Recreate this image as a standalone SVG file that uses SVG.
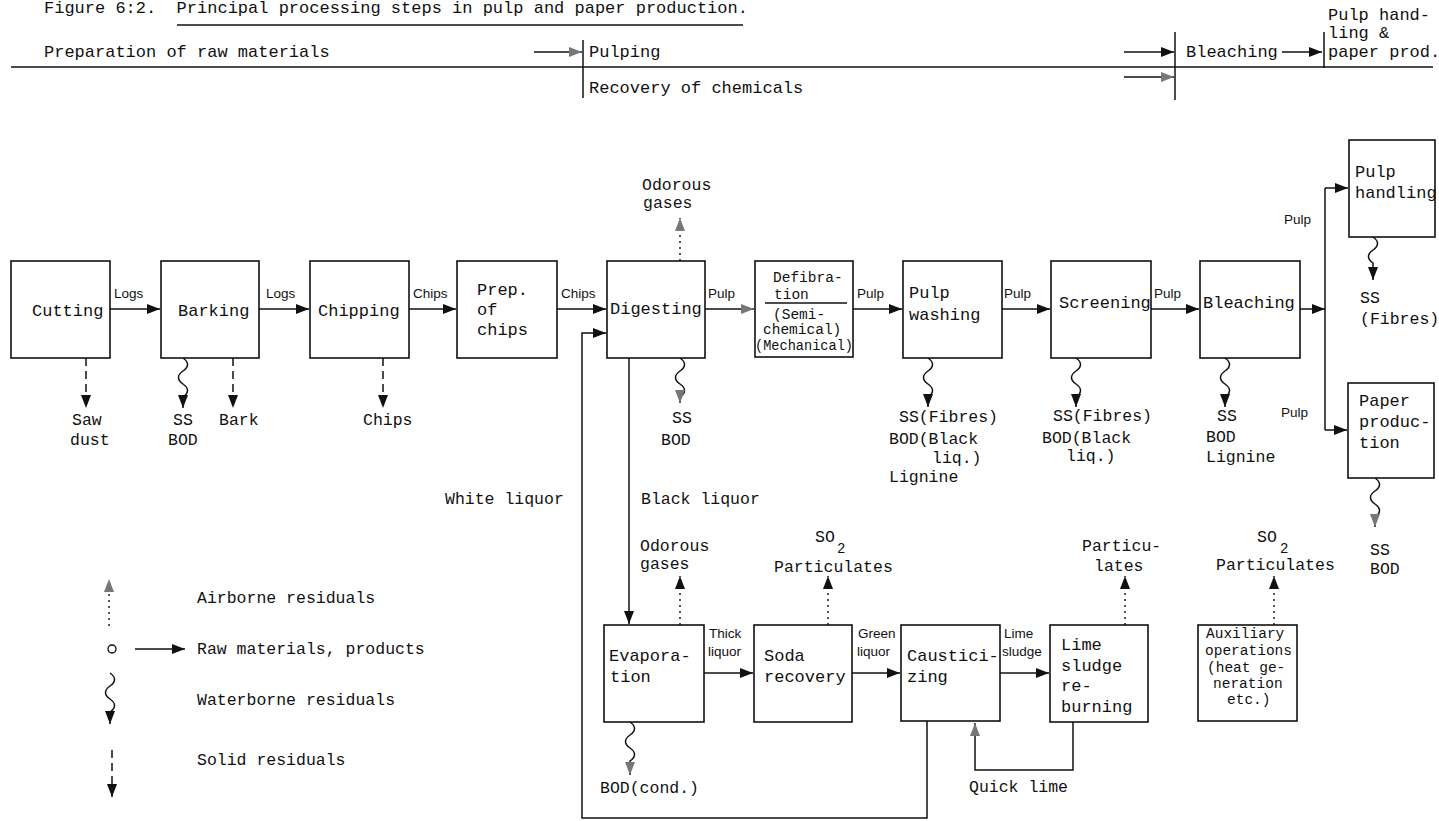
<svg xmlns="http://www.w3.org/2000/svg" width="1439" height="821" viewBox="0 0 1439 821">
<style>
text{font-family:"Liberation Mono","DejaVu Sans Mono",monospace;fill:#111}
.t{font-size:17px}
.l{font-size:16.5px}
.d{font-size:14.5px}
.a{font-size:14.5px}
.s{font-family:"Liberation Sans",Arial,sans-serif;font-size:13.5px}
.sub{font-size:14px}
rect{fill:#fff;stroke:#111;stroke-width:1.6}
.c{fill:none;stroke:#111;stroke-width:1.5}
.f{fill:none;stroke:#111;stroke-width:1.5;marker-end:url(#ab)}
.g{fill:none;stroke:#111;stroke-width:1.5;marker-end:url(#ag)}
.dash{stroke-dasharray:8 5}
.dot{stroke-dasharray:2 4;stroke-width:1.4}
</style>
<defs>
<marker id="ab" markerUnits="userSpaceOnUse" markerWidth="14" markerHeight="12" refX="13" refY="5" orient="auto"><path d="M0,0 L13,5 L0,10 z" fill="#111"/></marker>
<marker id="ag" markerUnits="userSpaceOnUse" markerWidth="14" markerHeight="12" refX="13" refY="5" orient="auto"><path d="M0,0 L13,5 L0,10 z" fill="#777"/></marker>
</defs>

<g id="header">
<text class="t" x="44" y="13" xml:space="preserve">Figure 6:2.  Principal processing steps in pulp and paper production.</text>
<line class="c" x1="177" y1="25" x2="743" y2="25"/>
<text class="t" x="44" y="57">Preparation of raw materials</text>
<text class="t" x="589" y="57">Pulping</text>
<text class="t" x="589" y="93">Recovery of chemicals</text>
<text class="t" x="1186" y="57">Bleaching</text>
<text class="t" x="1328" y="20">Pulp hand-</text>
<text class="t" x="1328" y="38">ling &amp;</text>
<text class="t" x="1328" y="57">paper prod.</text>
<line class="c" x1="11" y1="67" x2="1433" y2="67"/>
<line class="c" x1="583" y1="40" x2="583" y2="98"/>
<line class="c" x1="1175" y1="32" x2="1175" y2="100"/>
<line class="c" x1="1324" y1="32" x2="1324" y2="68"/>
<path class="g" d="M534 52 H582"/>
<path class="f" d="M1124 52 H1174"/>
<path class="g" d="M1124 77 H1174"/>
<path class="f" d="M1282 52 H1322"/>
</g>

<g id="connectors">
<path class="f" d="M110 309 H160"/>
<path class="f" d="M259 309 H309"/>
<path class="f" d="M409 309 H456"/>
<path class="f" d="M557 309 H606"/>
<path class="g" d="M705 309 H754"/>
<path class="f" d="M853 309 H902"/>
<path class="f" d="M1002 309 H1050"/>
<path class="f" d="M1151 309 H1199"/>
<path class="f" d="M1300 309 H1325"/>
<path class="c" d="M1325 188 V430"/>
<path class="f" d="M1325 188 H1348"/>
<path class="f" d="M1325 430 H1347"/>
<path class="f" d="M629 358 V624"/>
<path class="f" d="M927 721 V818 H582 V333 H606"/>
<path class="f" d="M704 673 H753"/>
<path class="f" d="M852 673 H900"/>
<path class="f" d="M1000 673 H1049"/>
<path class="g" d="M1073 722 V770 H975 V723"/>
<path class="g dot" d="M680 261 V218"/>
<path class="f dot" d="M680 625 V576"/>
<path class="f dot" d="M828 625 V576"/>
<path class="f dot" d="M1125 625 V576"/>
<path class="f dot" d="M1274 625 V576"/>
<path class="f dash" d="M86 358 V408"/>
<path class="f dash" d="M233 358 V408"/>
<path class="f dash" d="M383 358 V408"/>
<path class="f" d="M183 358 c 6 4 6 9 0 13 c -6 4 -6 9 0 13 c 6 4 6 9 0 13 L183 408"/>
<path class="g" d="M680 358 c 6 4 6 9 0 13 c -6 4 -6 9 0 13 c 6 4 6 9 0 13 L680 403"/>
<path class="f" d="M928 358 c 6 4 6 9 0 13 c -6 4 -6 9 0 13 c 6 4 6 9 0 13 L928 407"/>
<path class="f" d="M1076 358 c 6 4 6 9 0 13 c -6 4 -6 9 0 13 c 6 4 6 9 0 13 L1076 407"/>
<path class="f" d="M1225 358 c 6 4 6 9 0 13 c -6 4 -6 9 0 13 c 6 4 6 9 0 13 L1225 407"/>
<path class="f" d="M1373 237 c 6 4 6 9 0 13 c -6 4 -6 9 0 13 L1373 280"/>
<path class="g" d="M1375 478 c 6 4 6 9 0 13 c -6 4 -6 9 0 13 c 6 4 6 9 0 13 L1375 527"/>
<path class="g" d="M630 722 c 6 4 6 9 0 13 c -6 4 -6 9 0 13 c 6 4 6 9 0 13 L630 775"/>
<text class="s" x="114" y="298">Logs</text>
<text class="s" x="266" y="298">Logs</text>
<text class="s" x="413" y="298">Chips</text>
<text class="s" x="561" y="298">Chips</text>
<text class="s" x="708" y="298">Pulp</text>
<text class="s" x="857" y="298">Pulp</text>
<text class="s" x="1004" y="298">Pulp</text>
<text class="s" x="1154" y="298">Pulp</text>
<text class="s" x="1284" y="224">Pulp</text>
<text class="s" x="1281" y="417">Pulp</text>
<text class="s" x="709" y="638">Thick</text>
<text class="s" x="708" y="656">liquor</text>
<text class="s" x="858" y="638">Green</text>
<text class="s" x="857" y="656">liquor</text>
<text class="s" x="1004" y="638">Lime</text>
<text class="s" x="1002" y="656">sludge</text>
<text class="l" x="445" y="504">White liquor</text>
<text class="l" x="641" y="504">Black liquor</text>
<text class="l" x="969" y="792">Quick lime</text>
</g>

<g id="cutting"><rect x="11" y="261" width="99" height="97"/><text class="t" x="32" y="316">Cutting</text>
<text class="l" x="72" y="425">Saw</text><text class="l" x="70" y="445">dust</text></g>
<g id="barking"><rect x="161" y="261" width="98" height="97"/><text class="t" x="178" y="316">Barking</text>
<text class="l" x="173" y="425">SS</text><text class="l" x="168" y="445">BOD</text><text class="l" x="219" y="425">Bark</text></g>
<g id="chipping"><rect x="310" y="261" width="99" height="97"/><text class="t" x="318" y="316">Chipping</text>
<text class="l" x="363" y="425">Chips</text></g>
<g id="prep"><rect x="457" y="261" width="100" height="97"/><text class="t" x="477" y="295">Prep.</text><text class="t" x="477" y="315">of</text><text class="t" x="477" y="335">chips</text></g>
<g id="digesting"><rect x="607" y="261" width="98" height="97"/><text class="t" x="610" y="314">Digesting</text>
<text class="l" x="642" y="190">Odorous</text><text class="l" x="643" y="208">gases</text>
<text class="l" x="672" y="423">SS</text><text class="l" x="661" y="445">BOD</text></g>
<g id="defibration"><rect x="755" y="261" width="98" height="96"/>
<text class="d" x="773" y="282">Defibra-</text><text class="d" x="774" y="299">tion</text>
<line class="c" x1="765" y1="303" x2="847" y2="303"/>
<text class="d" x="773" y="319">(Semi-</text><text class="d" x="763" y="334">chemical)</text><text class="d" x="755" y="350" textLength="98" lengthAdjust="spacingAndGlyphs">(Mechanical)</text></g>
<g id="pulpwashing"><rect x="903" y="261" width="99" height="97"/><text class="t" x="909" y="298">Pulp</text><text class="t" x="909" y="320">washing</text>
<text class="l" x="899" y="422">SS(Fibres)</text><text class="l" x="889" y="444">BOD(Black</text><text class="l" x="932" y="463">liq.)</text><text class="l" x="889" y="482">Lignine</text></g>
<g id="screening"><rect x="1051" y="261" width="100" height="97"/><text class="t" x="1059" y="308">Screening</text>
<text class="l" x="1053" y="421">SS(Fibres)</text><text class="l" x="1042" y="443">BOD(Black</text><text class="l" x="1066" y="461">liq.)</text></g>
<g id="bleaching"><rect x="1200" y="261" width="100" height="97"/><text class="t" x="1203" y="308">Bleaching</text>
<text class="l" x="1217" y="421">SS</text><text class="l" x="1206" y="442">BOD</text><text class="l" x="1206" y="462">Lignine</text></g>
<g id="pulphandling"><rect x="1349" y="140" width="86" height="97"/><text class="t" x="1355" y="177">Pulp</text><text class="t" x="1355" y="198">handling</text>
<text class="l" x="1360" y="303">SS</text><text class="l" x="1360" y="324">(Fibres)</text></g>
<g id="paperproduction"><rect x="1348" y="383" width="86" height="95"/><text class="t" x="1359" y="406">Paper</text><text class="t" x="1359" y="427">produc-</text><text class="t" x="1359" y="448">tion</text>
<text class="l" x="1370" y="555">SS</text><text class="l" x="1370" y="574">BOD</text></g>
<g id="evaporation"><rect x="604" y="625" width="100" height="97"/><text class="t" x="609" y="661">Evapora-</text><text class="t" x="610" y="682">tion</text>
<text class="l" x="640" y="551">Odorous</text><text class="l" x="640" y="569">gases</text>
<text class="l" x="600" y="793">BOD(cond.)</text></g>
<g id="sodarecovery"><rect x="754" y="625" width="98" height="97"/><text class="t" x="764" y="661">Soda</text><text class="t" x="764" y="682">recovery</text>
<text class="l" x="815" y="542">SO</text><text class="sub" x="837" y="553">2</text><text class="l" x="774" y="572">Particulates</text></g>
<g id="causticizing"><rect x="901" y="625" width="99" height="96"/><text class="t" x="907" y="661">Caustici-</text><text class="t" x="907" y="682">zing</text></g>
<g id="limereburning"><rect x="1050" y="625" width="98" height="97"/><text class="t" x="1061" y="650">Lime</text><text class="t" x="1061" y="671">sludge</text><text class="t" x="1061" y="691">re-</text><text class="t" x="1061" y="712">burning</text>
<text class="l" x="1082" y="551">Particu-</text><text class="l" x="1094" y="571">lates</text></g>
<g id="auxiliary"><rect x="1198" y="625" width="99" height="96"/>
<text class="a" x="1206" y="638">Auxiliary</text><text class="a" x="1205" y="655">operations</text><text class="a" x="1207" y="672">(heat ge-</text><text class="a" x="1213" y="688">neration</text><text class="a" x="1227" y="704">etc.)</text>
<text class="l" x="1257" y="542">SO</text><text class="sub" x="1280" y="553">2</text><text class="l" x="1216" y="570">Particulates</text></g>

<g id="legend">
<path class="g dot" d="M109 626 V579"/>
<text class="l" x="197" y="603">Airborne residuals</text>
<circle cx="112" cy="649" r="4" fill="none" stroke="#111" stroke-width="1.4"/>
<path class="f" d="M135 649 H185"/>
<text class="l" x="197" y="654">Raw materials, products</text>
<path class="f" d="M110 673 c 6 4 6 9 0 13 c -6 4 -6 9 0 13 c 6 4 6 9 0 13 L110 724"/>
<text class="l" x="197" y="705">Waterborne residuals</text>
<path class="f dash" d="M112 750 V797"/>
<text class="l" x="197" y="765">Solid residuals</text>
</g>
</svg>
